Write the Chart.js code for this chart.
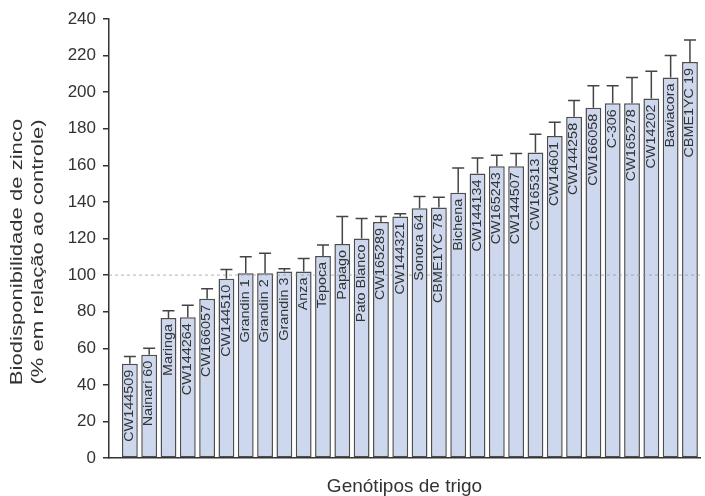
<!DOCTYPE html>
<html lang="pt">
<head>
<meta charset="UTF-8">
<title>Biodisponibilidade de zinco</title>
<style>
  body { margin: 0; background: #fff; }
  canvas { display: block; }
</style>
</head>
<body>
<canvas id="grafico" width="705" height="496"></canvas>

<script src="https://cdn.jsdelivr.net/npm/chart.js"></script>
<script>
// genótipos, em ordem crescente de biodisponibilidade
const genotipos = [
  'CW144509', 'Nainari 60', 'Maringa', 'CW144264', 'CW166057', 'CW144510',
  'Grandin 1', 'Grandin 2', 'Grandin 3', 'Anza', 'Tepoca', 'Papago',
  'Pato Blanco', 'CW165289', 'CW144321', 'Sonora 64', 'CBME1YC 78', 'Bichena',
  'CW144134', 'CW165243', 'CW144507', 'CW165313', 'CW14601', 'CW144258',
  'CW166058', 'C-306', 'CW165278', 'CW14202', 'Baviacora', 'CBME1YC 19'
];
// % em relação ao controle
const media = [
  51.5, 56.5, 76.5, 77, 87, 98,
  101, 101, 102, 102, 110.5, 117,
  120, 129, 132, 136.5, 137, 145,
  155.5, 159.5, 159.5, 167, 176, 186.5,
  191.5, 194, 194, 196.5, 208, 216.5
];
// desvio (só a metade superior é desenhada)
const desvio = [
  4, 3.5, 4, 6.5, 5.5, 5,
  9, 11, 1.5, 7, 6, 15,
  11, 3, 1.5, 6.5, 5.5, 13.5,
  8.5, 6, 7, 10, 7.5, 9,
  12, 9.5, 14, 15, 12, 12
];
const ticksY = [0, 20, 40, 60, 80, 100, 120, 140, 160, 180, 200, 220, 240];
const controle = 100;

const FONTE = '"Liberation Sans", Arial, sans-serif';
const TINTA = '#333';

const extras = {
  id: 'extras',
  afterDatasetsDraw(chart) {
    const { ctx, chartArea: a, scales: { y } } = chart;
    const barras = chart.getDatasetMeta(0).data;

    // linha tracejada do controle (100%)
    const yc = y.getPixelForValue(controle);
    ctx.save();
    ctx.strokeStyle = 'rgba(150,150,150,0.75)';
    ctx.lineWidth = 1;
    ctx.setLineDash([3, 3]);
    ctx.beginPath();
    ctx.moveTo(a.left, yc);
    ctx.lineTo(a.right, yc);
    ctx.stroke();
    ctx.restore();

    // barras de erro
    ctx.save();
    ctx.strokeStyle = '#444';
    ctx.lineWidth = 1.5;
    barras.forEach((b, i) => {
      const y0 = y.getPixelForValue(media[i]);
      const y1 = y.getPixelForValue(media[i] + desvio[i]);
      ctx.beginPath();
      ctx.moveTo(b.x, y0);
      ctx.lineTo(b.x, y1);
      ctx.moveTo(b.x - 6, y1);
      ctx.lineTo(b.x + 6, y1);
      ctx.stroke();
    });
    ctx.restore();

    // nomes dentro das barras, na vertical
    ctx.save();
    ctx.fillStyle = TINTA;
    ctx.font = '12px ' + FONTE;
    ctx.textAlign = 'right';
    ctx.textBaseline = 'middle';
    barras.forEach((b, i) => {
      ctx.save();
      ctx.translate(b.x, b.y + 6);
      ctx.rotate(-Math.PI / 2);
      ctx.scale(1.2, 1);
      ctx.fillText(genotipos[i], 0, 0);
      ctx.restore();
    });
    ctx.restore();
  },
  afterDraw(chart) {
    const { ctx, chartArea: a } = chart;
    ctx.save();
    ctx.fillStyle = TINTA;

    // título do eixo y, duas linhas
    ctx.font = '16px ' + FONTE;
    ctx.textAlign = 'center';
    ctx.textBaseline = 'middle';
    [['Biodisponibilidade de zinco', 18], ['(% em relação ao controle)', 39]].forEach(([t, x]) => {
      ctx.save();
      ctx.translate(x, 252);
      ctx.rotate(-Math.PI / 2);
      ctx.scale(1.38, 1);
      ctx.fillText(t, 0, 0);
      ctx.restore();
    });

    // título do eixo x
    ctx.font = '19px ' + FONTE;
    ctx.textBaseline = 'alphabetic';
    ctx.fillText('Genótipos de trigo', (a.left + a.right) / 2, 492);
    ctx.restore();
  }
};

new Chart(document.getElementById('grafico'), {
  type: 'bar',
  data: {
    datasets: [{
      data: media.map((v, i) => ({ x: i, y: v })),
      backgroundColor: '#cdd8ee',
      borderColor: '#4d4d4d',
      borderWidth: 1.5,
      borderSkipped: false,
      barPercentage: 0.82,
      categoryPercentage: 1
    }]
  },
  options: {
    responsive: false,
    animation: false,
    devicePixelRatio: 1,
    layout: { padding: { top: 19, right: 5, left: 0, bottom: 0 } },
    plugins: { legend: { display: false }, tooltip: { enabled: false } },
    scales: {
      x: {
        type: 'linear',
        offset: false,
        min: -1.08,
        max: 29.52,
        ticks: { display: false },
        grid: { display: false, offset: false },
        border: { display: true, color: TINTA, width: 1.5 },
        afterFit(s) { s.height = 38; }
      },
      y: {
        min: 0,
        max: 240,
        afterBuildTicks(s) { s.ticks = ticksY.map(v => ({ value: v })); },
        ticks: { color: TINTA, font: { family: FONTE, size: 17 }, padding: 7 },
        grid: { drawOnChartArea: false, drawTicks: true, tickLength: 6, color: TINTA, lineWidth: 1.5 },
        border: { display: true, color: TINTA, width: 1.5 },
        afterFit(s) { s.width = 109; }
      }
    }
  },
  plugins: [extras]
});
</script>
</body>
</html>
